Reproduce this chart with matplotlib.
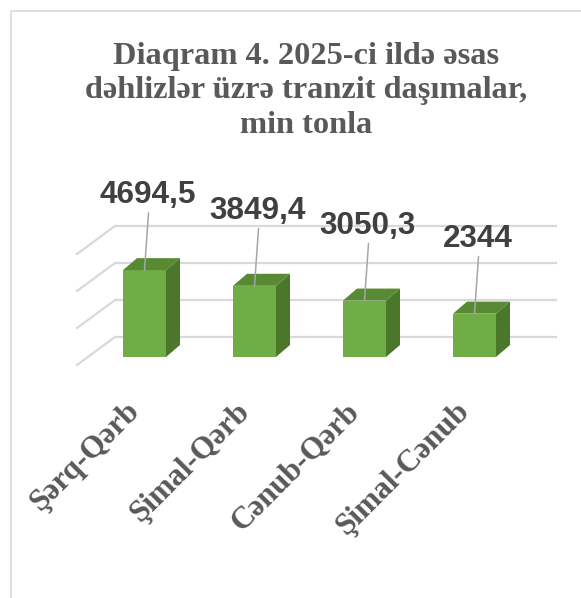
import matplotlib
matplotlib.use("Agg")
import matplotlib.pyplot as plt
from matplotlib.patches import Polygon, Rectangle

categories = ["Şərq-Qərb", "Şimal-Qərb", "Cənub-Qərb", "Şimal-Cənub"]
values = [4694.5, 3849.4, 3050.3, 2344]
grid_values = [0, 2000, 4000, 6000]
title_lines = ["Diaqram 4. 2025-ci ildə əsas",
               "dəhlizlər üzrə tranzit daşımalar,",
               "min tonla"]

W, H = 581, 598
fig = plt.figure(figsize=(W / 100, H / 100), dpi=100)
ax = fig.add_axes([0, 0, 1, 1])
ax.axis("off")

# pixel layout of the fake 3D view
cx0, step = 144.5, 110.0      # px of first bar centre, px between bars
base_y = 357.0                # px of bar front base (from top)
upp = 2000 / 37.0             # value units per pixel
ax.set_xlim(-cx0 / step, (W - cx0) / step)
ax.set_ylim(-(H - base_y) * upp, base_y * upp)

def px_x(p):  # horizontal px -> data x
    return (p - cx0) / step

def dx(p):
    return p / step

def dy(p):
    return p * upp

# back wall + left wall gridlines
for g in grid_values:
    yb = g + dy(20)
    yf = g - dy(8)
    ax.plot([px_x(115), px_x(557)], [yb, yb], color="#d9d9d9", lw=1.6, zorder=1,
            solid_capstyle="butt")
    ax.plot([px_x(77), px_x(115)], [yf, yb], color="#d9d9d9", lw=1.6, zorder=1)

# bars
w = 43 / step
bdx, bdy = dx(14), dy(12)
xs = list(range(len(values)))
ax.bar(xs, values, width=w, color="#70ad47", zorder=3, linewidth=0)
for x, v in zip(xs, values):
    r = x + w / 2
    l = x - w / 2
    ax.add_patch(Polygon([(r, 0), (r + bdx, bdy), (r + bdx, v + bdy), (r, v)],
                         closed=True, fc="#4a7729", ec="none", zorder=3))
    ax.add_patch(Polygon([(l, v), (r, v), (r + bdx, v + bdy), (l + bdx, v + bdy)],
                         closed=True, fc="#578a33", ec="none", zorder=3))

# data labels with leader lines
for x, v in zip(xs, values):
    lx = x + dx(3)
    ly = v + dy(67)
    ax.plot([lx + dx(1), x], [ly - dy(10), v], color="#a6a6a6", lw=1.1, zorder=4)
    ax.text(lx, ly, f"{v:g}".replace(".", ","), ha="center", va="baseline",
            fontsize=22.7, fontweight="bold", color="#404040",
            family="Liberation Sans", zorder=5)

# category labels
for x, c in zip(xs, categories):
    ax.text(x - dx(9), -dy(50), c, rotation=45, rotation_mode="anchor",
            ha="right", va="center", fontsize=22.5, fontweight="bold",
            color="#595959", family="Liberation Serif")

for i, line in enumerate(title_lines):
    fig.text(306 / W, 1 - (64 + 34.5 * i) / H, line, ha="center", va="baseline",
             fontsize=23.3, fontweight="bold", color="#595959",
             family="Liberation Serif")

fig.patches.append(Rectangle((11 / W, -0.1), 1.2, 1 - 11 / H + 0.1,
                             transform=fig.transFigure, fill=False,
                             ec="#d9d9d9", lw=1.2))

fig.savefig("out.png", dpi=100)
